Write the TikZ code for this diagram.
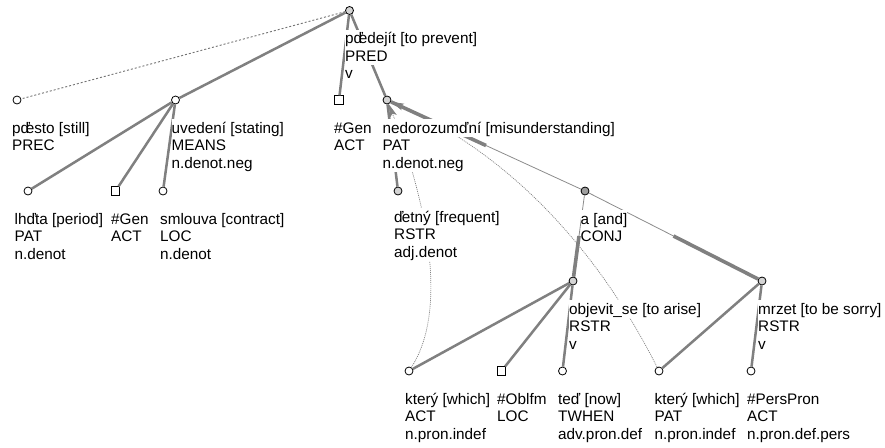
\documentclass[tikz,border=0pt]{standalone}
\usepackage{fontspec}
\setmainfont{Liberation Sans}
\usetikzlibrary{arrows.meta,calc}
\setlength{\fboxsep}{0pt}
\newcommand{\wl}[1]{\colorbox{white}{\rule[-3.5pt]{0pt}{17.5pt}#1}}
\newcommand{\dk}[1]{\makebox[#1em][l]{ď}}
\tikzstyle{tnode} = [circle, draw=black, line width=0.8pt, fill=white, inner sep=0pt, minimum size=8pt]
\tikzstyle{gnode} = [tnode, fill=black!17]
\tikzstyle{cnode} = [tnode, fill=black!38]
\tikzstyle{snode} = [rectangle, draw=black, line width=0.8pt, fill=white, inner sep=0pt, minimum size=8.5pt]
\tikzstyle{edge} = [draw=black!50, line width=2.5pt]
\tikzstyle{half} = [draw=black!50, line width=3.6pt]
\tikzstyle{hair} = [draw=black!45, line width=0.8pt]
\tikzstyle{hidden} = [draw=black!55, line width=0.9pt, dash pattern=on 2pt off 2pt]
\tikzstyle{coref} = [draw=black!50, line width=0.7pt, dash pattern=on 1pt off 1pt,%
	-{Stealth[length=13pt,width=7pt,inset=3pt,fill=black!50]}]
\tikzstyle{lbl} = [anchor=north west, inner sep=0pt, align=left, font=\fontsize{15.3}{17.5}\selectfont]

\begin{document}
\begin{tikzpicture}[x=1pt,y=-1pt]
	\fill[white] (0,0) rectangle (885,447);
	\useasboundingbox (0,0) rectangle (885,447);
	% tree nodes
	\node[gnode] (root) at (349.5,10.5) {};
	\node[tnode] (presto) at (17,100) {};
	\node[tnode] (uvedeni) at (175.5,100) {};
	\node[snode] (gena) at (339,100) {};
	\node[gnode] (nedoroz) at (387,100) {};
	\node[tnode] (lhuta) at (28,191) {};
	\node[snode] (genb) at (115.5,191) {};
	\node[tnode] (smlouva) at (163,191) {};
	\node[gnode] (cetny) at (398,191) {};
	\node[cnode] (and) at (585,191) {};
	\node[gnode] (objevit) at (573,281) {};
	\node[gnode] (mrzet) at (762,281) {};
	\node[tnode] (kterya) at (409,371) {};
	\node[snode] (oblfm) at (501.5,371) {};
	\node[tnode] (ted) at (562.5,371) {};
	\node[tnode] (kteryp) at (659,371) {};
	\node[tnode] (perspron) at (751,371) {};
	% edges
	\draw[hidden] (root) -- (presto);
	\draw[edge] (root) -- (uvedeni);
	\draw[edge] (root) -- (gena);
	\draw[edge] (root) -- (nedoroz);
	\draw[edge] (uvedeni) -- (lhuta);
	\draw[edge] (uvedeni) -- (genb);
	\draw[edge] (uvedeni) -- (smlouva);
	\draw[edge] (nedoroz) -- (cetny);
	\draw[hair] (nedoroz) -- (and);
	\draw[half] (nedoroz) -- ($(nedoroz)!.5!(and)$);
	\draw[hair] (and) -- (objevit);
	\draw[half] ($(and)!.5!(objevit)$) -- (objevit);
	\draw[hair] (and) -- (mrzet);
	\draw[half] ($(and)!.5!(mrzet)$) -- (mrzet);
	\draw[edge] (objevit) -- (kterya);
	\draw[edge] (objevit) -- (oblfm);
	\draw[edge] (objevit) -- (ted);
	\draw[edge] (mrzet) -- (kteryp);
	\draw[edge] (mrzet) -- (perspron);
	% coreference
	\draw[coref] (kterya) .. controls (455,300) and (415,170) .. (nedoroz);
	\draw[coref] (kteryp) .. controls (594,242) and (503,151) .. (nedoroz);
	% labels
	\node[lbl] (lroot) at ([shift={(-4.5,19)}]root) {\wl{p\dk{.333}edejít [to prevent]}\\\wl{PRED}\\\wl{v}};
	\node[lbl] (lpresto) at ([shift={(-5,19)}]presto) {\wl{p\dk{.333}esto [still]}\\\wl{PREC}};
	\node[lbl] (luvedeni) at ([shift={(-4,19)}]uvedeni) {\wl{uvedení [stating]}\\\wl{MEANS}\\\wl{n.denot.neg}};
	\node[lbl] (lgena) at ([shift={(-5,19)}]gena) {\wl{\#Gen}\\\wl{ACT}};
	\node[lbl] (lnedoroz) at ([shift={(-4.5,19)}]nedoroz) {\wl{nedorozumďní [misunderstanding]}\\\wl{PAT}\\\wl{n.denot.neg}};
	\node[lbl] (llhuta) at ([shift={(-13.5,19)}]lhuta) {\wl{lh\dk{.556}ta [period]}\\\wl{PAT}\\\wl{n.denot}};
	\node[lbl] (lgenb) at ([shift={(-4.5,19)}]genb) {\wl{\#Gen}\\\wl{ACT}};
	\node[lbl] (lsmlouva) at ([shift={(-3,19)}]smlouva) {\wl{smlouva [contract]}\\\wl{LOC}\\\wl{n.denot}};
	\node[lbl] (lcetny) at ([shift={(-4,17)}]cetny) {\wl{\dk{.5}etný [frequent]}\\\wl{RSTR}\\\wl{adj.denot}};
	\node[lbl] (land) at ([shift={(-4.5,19)}]and) {\wl{a [and]}\\\wl{CONJ}};
	\node[lbl] (lobjevit) at ([shift={(-4,19)}]objevit) {\wl{objevit\_se [to arise]}\\\wl{RSTR}\\\wl{v}};
	\node[lbl] (lmrzet) at ([shift={(-4,19)}]mrzet) {\wl{mrzet [to be sorry]}\\\wl{RSTR}\\\wl{v}};
	\node[lbl] (lkterya) at ([shift={(-4,19)}]kterya) {\wl{který [which]}\\\wl{ACT}\\\wl{n.pron.indef}};
	\node[lbl] (loblfm) at ([shift={(-4.5,19)}]oblfm) {\wl{\#Oblfm}\\\wl{LOC}};
	\node[lbl] (lted) at ([shift={(-4.5,19)}]ted) {\wl{teď [now]}\\\wl{TWHEN}\\\wl{adv.pron.def}};
	\node[lbl] (lkteryp) at ([shift={(-4.5,19)}]kteryp) {\wl{který [which]}\\\wl{PAT}\\\wl{n.pron.indef}};
	\node[lbl] (lperspron) at ([shift={(-4,19)}]perspron) {\wl{\#PersPron}\\\wl{ACT}\\\wl{n.pron.def.pers}};
\end{tikzpicture}
\end{document}
